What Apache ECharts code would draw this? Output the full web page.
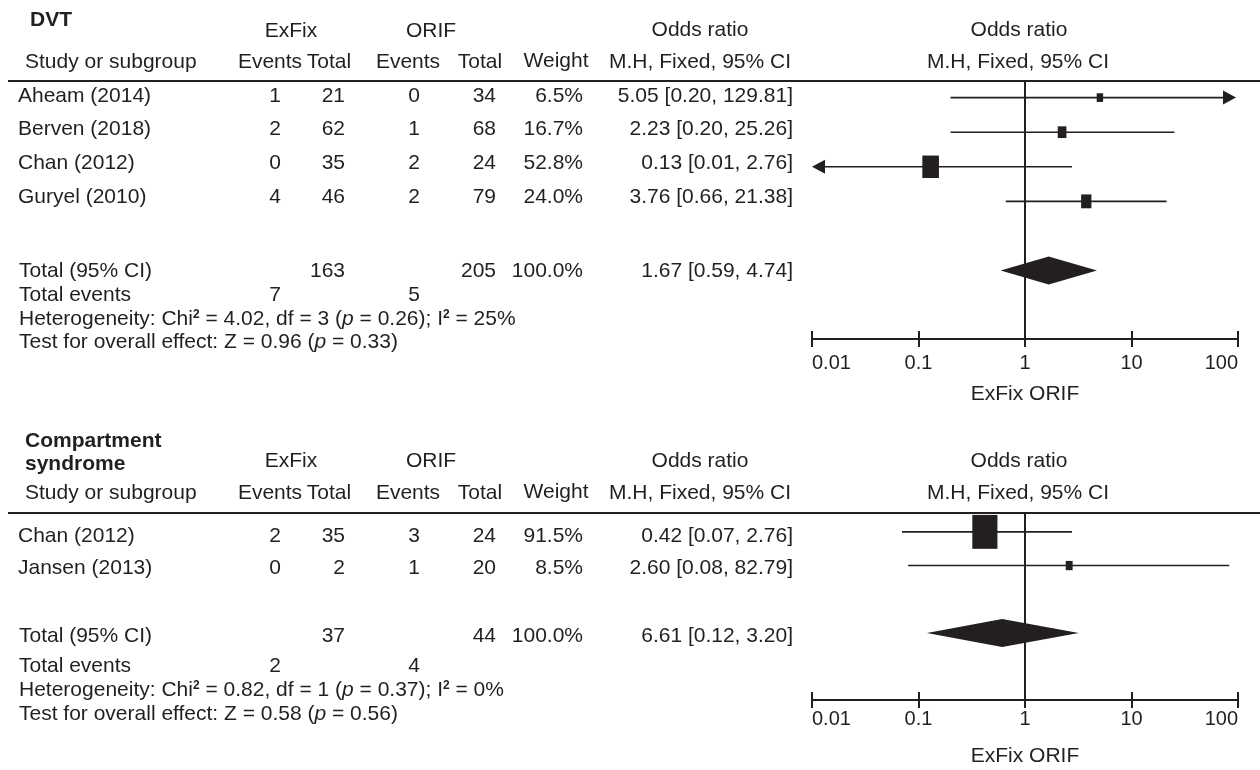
<!DOCTYPE html>
<html><head><meta charset="utf-8">
<script src="https://cdn.jsdelivr.net/npm/echarts@6/dist/echarts.min.js"></script>
<style>html,body{margin:0;padding:0;background:#fff}#c{width:1260px;height:770px}</style>
</head><body><div id="c"></div>
<script>
// ---------- DVT ----------
const dvtStudies = ['Aheam (2014)', 'Berven (2018)', 'Chan (2012)', 'Guryel (2010)'];
const dvtExfixEvents = [1, 2, 0, 4];
const dvtExfixTotal = [21, 62, 35, 46];
const dvtOrifEvents = [0, 1, 2, 2];
const dvtOrifTotal = [34, 68, 24, 79];
const dvtWeight = [6.5, 16.7, 52.8, 24.0];
const dvtOR = [5.05, 2.23, 0.13, 3.76];
const dvtLower = [0.20, 0.20, 0.01, 0.66];
const dvtUpper = [129.81, 25.26, 2.76, 21.38];
const dvtTotals = [163, 205];
const dvtTotalEvents = [7, 5];
const dvtPooled = [1.67, 0.59, 4.74];
const dvtPooledLabel = '1.67 [0.59, 4.74]';
const dvtHet = ['4.02', '3', '0.26', '25%'];
const dvtZ = ['0.96', '0.33'];

// ---------- Compartment syndrome ----------
const csStudies = ['Chan (2012)', 'Jansen (2013)'];
const csExfixEvents = [2, 0];
const csExfixTotal = [35, 2];
const csOrifEvents = [3, 1];
const csOrifTotal = [24, 20];
const csWeight = [91.5, 8.5];
const csOR = [0.42, 2.60];
const csLower = [0.07, 0.08];
const csUpper = [2.76, 82.79];
const csTotals = [37, 44];
const csTotalEvents = [2, 4];
const csPooled = [0.61, 0.12, 3.20];          // diamond as drawn
const csPooledLabel = '6.61 [0.12, 3.20]';    // as printed
const csHet = ['0.82', '1', '0.37', '0%'];
const csZ = ['0.58', '0.56'];

const tickLabels = ['0.01', '0.1', '1', '10', '100'];
const axisName = 'ExFix ORIF';

// ---------- style / layout ----------
const FONT = '"Liberation Sans", Arial, Helvetica, sans-serif';
const INK = '#231f20';
const FS = 21;

const panels = [
  { title: [['DVT', 30, 20]], studies: dvtStudies, exEv: dvtExfixEvents, exTot: dvtExfixTotal,
    orEv: dvtOrifEvents, orTot: dvtOrifTotal, w: dvtWeight, est: dvtOR, lo: dvtLower, hi: dvtUpper,
    totals: dvtTotals, tev: dvtTotalEvents, pooled: dvtPooled, pooledLabel: dvtPooledLabel, het: dvtHet, z: dvtZ,
    gridTop: 81, gridH: 258, yMin: -0.48, yMax: 6.98, pooledRow: 5,
    groupY: 31.5, oddsY: 30.5, headY: 62.5, rowY0: 96, rowDy: 33.6, totalY: 271.7, eventsY: 295, hetY: 319.5, testY: 342.5,
    labelMargin: 14, nameGap: 45 },
  { title: [['Compartment', 25, 441.5], ['syndrome', 25, 464]], studies: csStudies, exEv: csExfixEvents, exTot: csExfixTotal,
    orEv: csOrifEvents, orTot: csOrifTotal, w: csWeight, est: csOR, lo: csLower, hi: csUpper,
    totals: csTotals, tev: csTotalEvents, pooled: csPooled, pooledLabel: csPooledLabel, het: csHet, z: csZ,
    gridTop: 513, gridH: 187, yMin: -0.56, yMax: 4.99, pooledRow: 3,
    groupY: 461.5, oddsY: 461.7, headY: 493.5, rowY0: 536.5, rowDy: 32, totalY: 636.7, eventsY: 666, hetY: 690.5, testY: 714.5,
    labelMargin: 9, nameGap: 46 }
];

const COL = { study: 18, studyHead: 25, exEv: 275, exTot: 345, orEv: 414, orTot: 496, weight: 583, orLab: 793,
  exGroup: 291, orGroup: 431, exEvHead: 270, exTotHead: 329, orEvHead: 408, orTotHead: 480, weightHead: 556, orHead: 700, plotHead: 1019 };

function T(text, x, y, align, extra) {
  return { type: 'text', x: x, y: y, silent: true,
    style: Object.assign({ text: String(text), fill: INK, fontFamily: FONT, fontSize: FS, align: align || 'left', verticalAlign: 'middle' }, extra || {}) };
}
const richStyles = {
  it: { fontFamily: FONT, fontSize: FS, fontStyle: 'italic', fill: INK },
  sup: { fontFamily: FONT, fontSize: 12, fontWeight: 'bold', fill: INK, verticalAlign: 'top' }
};
function fmtCI(e, l, h) { return e.toFixed(2) + ' [' + l.toFixed(2) + ', ' + h.toFixed(2) + ']'; }

const graphics = [];
panels.forEach(function (p) {
  p.title.forEach(function (t) { graphics.push(T(t[0], t[1], t[2], 'left', { fontWeight: 'bold' })); });
  graphics.push(T('ExFix', COL.exGroup, p.groupY, 'center'));
  graphics.push(T('ORIF', COL.orGroup, p.groupY, 'center'));
  graphics.push(T('Odds ratio', COL.orHead, p.oddsY, 'center'));
  graphics.push(T('Odds ratio', COL.plotHead, p.oddsY, 'center'));
  graphics.push(T('Study or subgroup', COL.studyHead, p.headY, 'left'));
  graphics.push(T('Events', COL.exEvHead, p.headY, 'center'));
  graphics.push(T('Total', COL.exTotHead, p.headY, 'center'));
  graphics.push(T('Events', COL.orEvHead, p.headY, 'center'));
  graphics.push(T('Total', COL.orTotHead, p.headY, 'center'));
  graphics.push(T('Weight', COL.weightHead, p.headY - 1, 'center'));
  graphics.push(T('M.H, Fixed, 95% CI', COL.orHead, p.headY, 'center'));
  graphics.push(T('M.H, Fixed, 95% CI', COL.plotHead - 1, p.headY, 'center'));
  graphics.push({ type: 'line', silent: true, shape: { x1: 8, y1: p.gridTop, x2: 1260, y2: p.gridTop },
    style: { stroke: INK, lineWidth: 2 } });
  p.studies.forEach(function (s, i) {
    const y = p.rowY0 + i * p.rowDy;
    graphics.push(T(s, COL.study, y, 'left'));
    graphics.push(T(p.exEv[i], COL.exEv, y, 'center'));
    graphics.push(T(p.exTot[i], COL.exTot, y, 'right'));
    graphics.push(T(p.orEv[i], COL.orEv, y, 'center'));
    graphics.push(T(p.orTot[i], COL.orTot, y, 'right'));
    graphics.push(T(p.w[i].toFixed(1) + '%', COL.weight, y, 'right'));
    graphics.push(T(fmtCI(p.est[i], p.lo[i], p.hi[i]), COL.orLab, y, 'right'));
  });
  graphics.push(T('Total (95% CI)', COL.study + 1, p.totalY, 'left'));
  graphics.push(T(p.totals[0], COL.exTot, p.totalY, 'right'));
  graphics.push(T(p.totals[1], COL.orTot, p.totalY, 'right'));
  graphics.push(T('100.0%', COL.weight, p.totalY, 'right'));
  graphics.push(T(p.pooledLabel, COL.orLab, p.totalY, 'right'));
  graphics.push(T('Total events', COL.study + 1, p.eventsY, 'left'));
  graphics.push(T(p.tev[0], COL.exEv, p.eventsY, 'center'));
  graphics.push(T(p.tev[1], COL.orEv, p.eventsY, 'center'));
  graphics.push(T('Heterogeneity: Chi{sup|2} = ' + p.het[0] + ', df = ' + p.het[1] + ' ({it|p} = ' + p.het[2] + '); I{sup|2} = ' + p.het[3],
    COL.study + 1, p.hetY, 'left', { rich: richStyles }));
  graphics.push(T('Test for overall effect: Z = ' + p.z[0] + ' ({it|p} = ' + p.z[1] + ')',
    COL.study + 1, p.testY, 'left', { rich: richStyles }));
});

// ---------- chart ----------
const grids = panels.map(function (p) { return { left: 812, width: 426, top: p.gridTop, height: p.gridH }; });
const xAxes = [];
const yAxes = [];
panels.forEach(function (p, k) {
  xAxes.push({
    type: 'log', logBase: 10, min: 0.01, max: 100, gridIndex: k, position: 'bottom',
    axisLine: { show: true, onZero: false, lineStyle: { color: INK, width: 2 } },
    axisTick: { show: true, length: 8, lineStyle: { color: INK, width: 2 } },
    minorTick: { show: false }, splitLine: { show: false },
    axisLabel: { show: true, margin: p.labelMargin, color: INK, fontFamily: FONT, fontSize: 20,
      alignMinLabel: 'left', alignMaxLabel: 'right',
      formatter: function (v) { return tickLabels[Math.round(Math.log10(v)) + 2]; } },
    name: axisName, nameLocation: 'middle', nameGap: p.nameGap,
    nameTextStyle: { color: INK, fontFamily: FONT, fontSize: FS }
  });
  xAxes.push({
    type: 'log', logBase: 10, min: 0.01, max: 100, gridIndex: k, position: 'bottom',
    axisLine: { show: false, onZero: false }, axisLabel: { show: false }, splitLine: { show: false },
    axisTick: { show: true, inside: true, length: 8, lineStyle: { color: INK, width: 2 } }
  });
  yAxes.push({ type: 'value', gridIndex: k, inverse: true, min: p.yMin, max: p.yMax, show: false });
});

function studyRender(params, api) {
  const est = api.value(0), lo = api.value(1), hi = api.value(2), row = api.value(3), w = api.value(4);
  const pe = api.coord([est, row]);
  const y = pe[1];
  const xl = api.coord([Math.max(lo, 0.01), row])[0];
  const xh = api.coord([Math.min(hi, 100), row])[0];
  const arrowL = lo <= 0.01, arrowR = hi >= 100;
  const AL = 13, AH = 7;
  const ch = [];
  ch.push({ type: 'line', shape: { x1: arrowL ? xl + AL : xl, y1: y, x2: arrowR ? xh - AL : xh, y2: y },
    style: { stroke: INK, lineWidth: 1.6 } });
  if (arrowR) ch.push({ type: 'polygon', shape: { points: [[xh - 2, y], [xh - 2 - AL, y - AH], [xh - 2 - AL, y + AH]] }, style: { fill: INK } });
  if (arrowL) ch.push({ type: 'polygon', shape: { points: [[xl, y], [xl + AL, y - AH], [xl + AL, y + AH]] }, style: { fill: INK } });
  const sw = 5 + 0.22 * w, sh = sw * 1.35;
  ch.push({ type: 'rect', shape: { x: pe[0] - sw / 2, y: y - sh / 2, width: sw, height: sh }, style: { fill: INK } });
  return { type: 'group', children: ch };
}
function diamondRender(params, api) {
  const est = api.value(0), lo = api.value(1), hi = api.value(2), row = api.value(3);
  const c = api.coord([est, row]), l = api.coord([lo, row]), h = api.coord([hi, row]);
  const H = 14;
  return { type: 'polygon', shape: { points: [[l[0], c[1]], [c[0], c[1] - H], [h[0], c[1]], [c[0], c[1] + H]] }, style: { fill: INK } };
}

const series = [];
panels.forEach(function (p, k) {
  series.push({ type: 'line', xAxisIndex: 2 * k, yAxisIndex: k, silent: true, symbol: 'none',
    data: [[1, p.yMin], [1, p.yMax]], lineStyle: { color: INK, width: 2 } });
  series.push({ type: 'custom', xAxisIndex: 2 * k, yAxisIndex: k, silent: true, clip: false,
    renderItem: studyRender, encode: { x: [0, 1, 2], y: 3 },
    data: p.est.map(function (e, i) { return [e, p.lo[i], p.hi[i], i, p.w[i]]; }) });
  series.push({ type: 'custom', xAxisIndex: 2 * k, yAxisIndex: k, silent: true, clip: false,
    renderItem: diamondRender, encode: { x: [0, 1, 2], y: 3 },
    data: [[p.pooled[0], p.pooled[1], p.pooled[2], p.pooledRow]] });
});

const chart = echarts.init(document.getElementById('c'));
chart.setOption({
  animation: false,
  backgroundColor: '#fff',
  grid: grids,
  xAxis: xAxes,
  yAxis: yAxes,
  series: series,
  graphic: graphics
});
</script>
</body></html>
